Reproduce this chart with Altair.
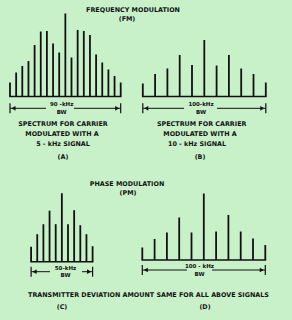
import altair as alt
import pandas as pd

# ---- data ----
# sideband offsets from carrier (kHz) and relative amplitudes
a_freq = [-45, -40, -35, -30, -25, -20, -15, -10, -5, 0, 5, 10, 15, 20, 25, 30, 35, 40, 45]
a_amp = [14, 24, 30.5, 35.5, 51.5, 65, 65.5, 53, 44, 83, 39, 66.5, 65.5, 61.5, 42, 34, 27, 20.5, 14]
b_freq = [-50, -40, -30, -20, -10, 0, 10, 20, 30, 40, 50]
b_amp = [13, 22.5, 28, 41.5, 31.5, 56.5, 31, 41.5, 28, 22.5, 14]
c_freq = [-25, -20, -15, -10, -5, 0, 5, 10, 15, 20, 25]
c_amp = [15, 27.5, 37.5, 51, 37.5, 68.5, 37.5, 51.5, 36.5, 27.5, 15.5]
d_freq = [-50, -40, -30, -20, -10, 0, 10, 20, 30, 40, 50]
d_amp = [12.5, 21, 27.5, 42.5, 27.5, 66.5, 28.5, 45, 28.5, 21.5, 15]
bw_labels = ["90 -kHz", "100-kHz", "50-kHz", "100 - kHz"]

# ---- layout ----
W, H = 292, 320
PX_PER_KHZ = 1.23
BG = "#c9f1c9"
INK = "#111111"
FONT = "DejaVu Sans"

panels = [
    # name, freqs, amps, center_px, baseline_px, bw_y, gap (left,right), label x
    ("A", a_freq, a_amp, 65.35, 96.5, 108.3, (46, 74), 61.7),
    ("B", b_freq, b_amp, 204.3, 96.5, 108.3, (184, 217), 201),
    ("C", c_freq, c_amp, 61.85, 261.7, 271.7, (50, 82), 65.5),
    ("D", d_freq, d_amp, 203.8, 260, 270, (187, 212), 199.5),
]

lines, bases, segs, ticks, arrows, bwtxt = [], [], [], [], [], []
for (name, fr, am, cx, base, bwy, gap, lx), lab in zip(panels, bw_labels):
    xs = [cx + f * PX_PER_KHZ for f in fr]
    for x, a in zip(xs, am):
        lines.append({"x": x, "y": base - a, "y2": base})
    bases.append({"x": xs[0] - 0.8, "x2": xs[-1] + 0.8, "y": base})
    segs.append({"x": xs[0], "x2": gap[0], "y": bwy})
    segs.append({"x": gap[1], "x2": xs[-1], "y": bwy})
    ticks.append({"x": xs[0], "y": bwy - 5, "y2": bwy + 5})
    ticks.append({"x": xs[-1], "y": bwy - 5, "y2": bwy + 5})
    arrows.append({"x": xs[0] + 3.5, "y": bwy, "s": "triangle-left"})
    arrows.append({"x": xs[-1] - 3.5, "y": bwy, "s": "triangle-right"})
    bwtxt.append({"x": lx, "y": bwy - 4, "t": lab})
    bwtxt.append({"x": lx, "y": bwy + 3.5, "t": "BW"})

texts = pd.DataFrame([
    {"x": 133, "y": 10, "t": "FREQUENCY MODULATION"},
    {"x": 127, "y": 19, "t": "(FM)"},
    {"x": 63, "y": 124.3, "t": "SPECTRUM FOR CARRIER"},
    {"x": 62, "y": 133.5, "t": "MODULATED WITH A"},
    {"x": 63, "y": 143.5, "t": "5 - kHz SIGNAL"},
    {"x": 63, "y": 156.7, "t": "(A)"},
    {"x": 201.7, "y": 124.3, "t": "SPECTRUM FOR CARRIER"},
    {"x": 200, "y": 133.5, "t": "MODULATED WITH A"},
    {"x": 197, "y": 143.5, "t": "10 - kHz SIGNAL"},
    {"x": 200, "y": 156.7, "t": "(B)"},
    {"x": 127, "y": 184, "t": "PHASE MODULATION"},
    {"x": 128, "y": 193.3, "t": "(PM)"},
    {"x": 148.5, "y": 295, "t": "TRANSMITTER DEVIATION AMOUNT SAME FOR ALL ABOVE SIGNALS"},
    {"x": 62, "y": 306.7, "t": "(C)"},
    {"x": 205, "y": 306.7, "t": "(D)"},
])

xs_ = alt.Scale(domain=[0, W], nice=False, zero=False)
ys_ = alt.Scale(domain=[0, H], nice=False, zero=False, reverse=True)
X = lambda f="x": alt.X(f"{f}:Q", scale=xs_, axis=None)
Y = lambda f="y": alt.Y(f"{f}:Q", scale=ys_, axis=None)

spec_lines = alt.Chart(pd.DataFrame(lines)).mark_rule(color=INK, strokeWidth=1.8).encode(
    x=X(), y=Y(), y2="y2:Q")
base_lines = alt.Chart(pd.DataFrame(bases)).mark_rule(color=INK, strokeWidth=1.6).encode(
    x=X(), x2="x2:Q", y=Y())
seg_lines = alt.Chart(pd.DataFrame(segs)).mark_rule(color=INK, strokeWidth=1).encode(
    x=X(), x2="x2:Q", y=Y())
tick_lines = alt.Chart(pd.DataFrame(ticks)).mark_rule(color=INK, strokeWidth=1.2).encode(
    x=X(), y=Y(), y2="y2:Q")
arrow_pts = alt.Chart(pd.DataFrame(arrows)).mark_point(
    filled=True, color=INK, size=22, opacity=1).encode(
    x=X(), y=Y(), shape=alt.Shape("s:N", scale=None))
bw_text = alt.Chart(pd.DataFrame(bwtxt)).mark_text(
    font=FONT, fontSize=5.5, fontWeight="bold", color=INK, baseline="middle", align="center").encode(
    x=X(), y=Y(), text="t:N")
main_text = alt.Chart(texts).mark_text(
    font=FONT, fontSize=6.4, fontWeight="bold", color=INK, baseline="middle", align="center").encode(
    x=X(), y=Y(), text="t:N")

chart = alt.layer(spec_lines, base_lines, seg_lines, tick_lines, arrow_pts, bw_text, main_text).properties(
    width=W, height=H, padding=0, autosize="none", background=BG
).configure_view(stroke=None, fill=BG)

chart.save("out.html", embed_options={"renderer": "svg", "actions": False})
